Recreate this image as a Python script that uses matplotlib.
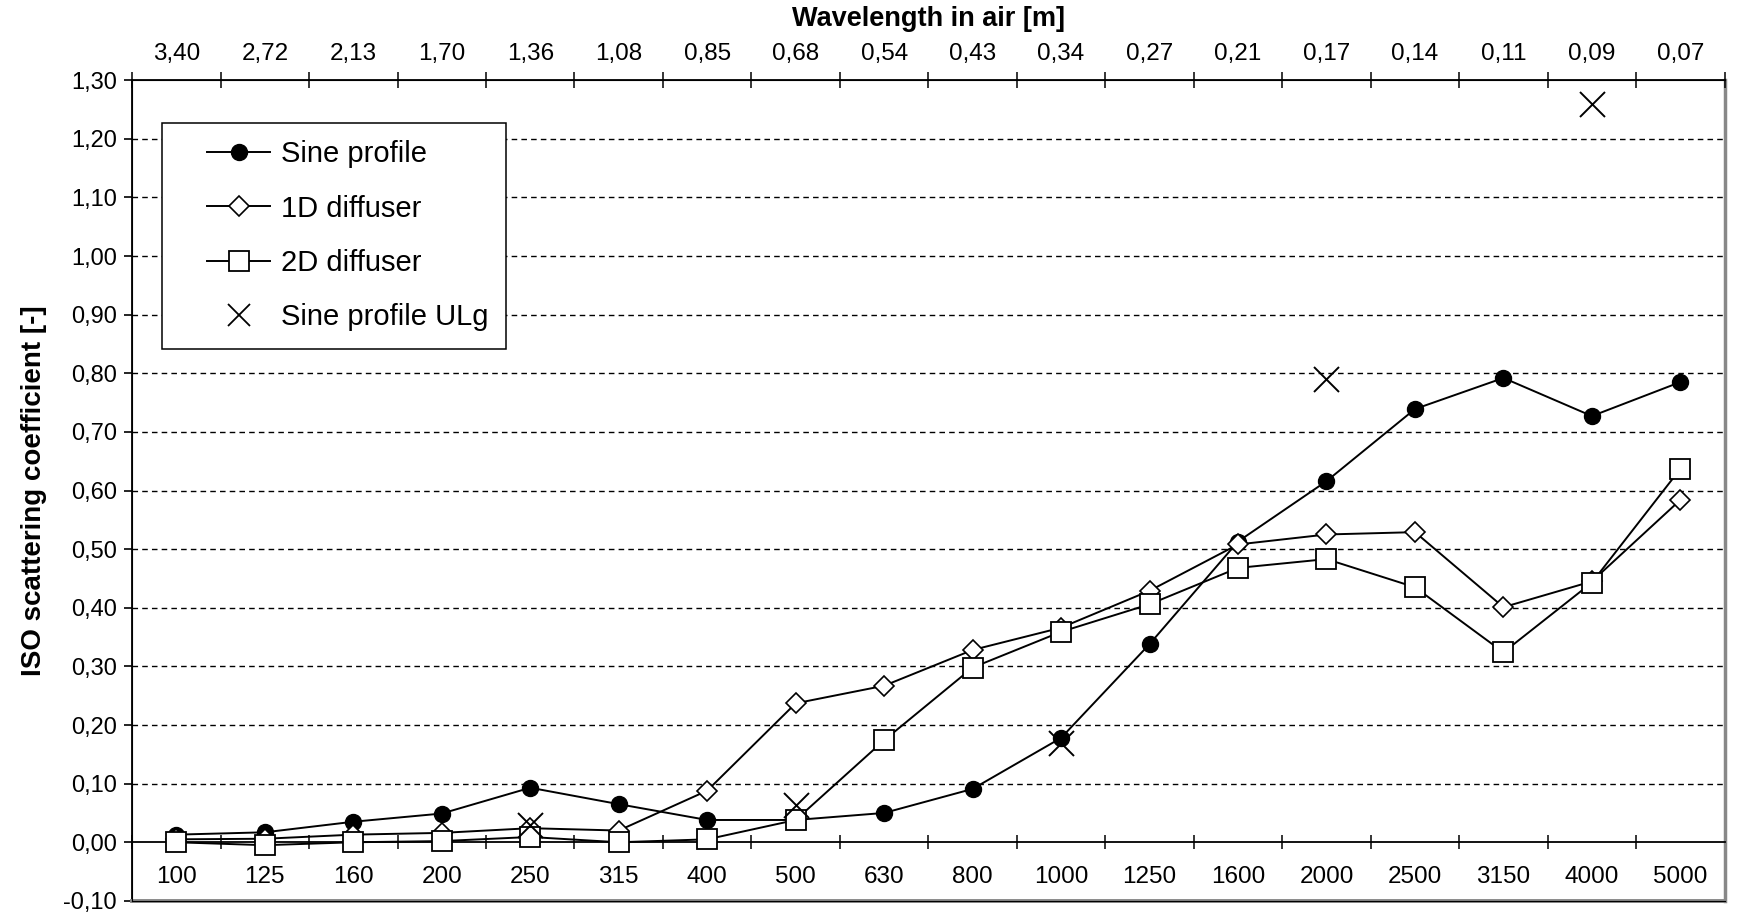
import matplotlib
matplotlib.use("Agg")
import matplotlib.pyplot as plt
from matplotlib.lines import Line2D
from matplotlib.legend_handler import HandlerLine2D
import numpy as np

# third-octave band centre frequencies [Hz]
freqs = ["100", "125", "160", "200", "250", "315", "400", "500", "630",
         "800", "1000", "1250", "1600", "2000", "2500", "3150", "4000", "5000"]
wavelengths = ["3,40", "2,72", "2,13", "1,70", "1,36", "1,08", "0,85", "0,68", "0,54",
               "0,43", "0,34", "0,27", "0,21", "0,17", "0,14", "0,11", "0,09", "0,07"]

sineProfile = [0.013, 0.017, 0.035, 0.049, 0.093, 0.065, 0.038, 0.038, 0.050,
               0.091, 0.178, 0.338, 0.513, 0.616, 0.739, 0.792, 0.727, 0.785]
diffuser1D = [0.005, 0.006, 0.013, 0.016, 0.024, 0.020, 0.088, 0.237, 0.267,
              0.328, 0.366, 0.429, 0.508, 0.525, 0.529, 0.401, 0.445, 0.584]
diffuser2D = [0.000, -0.005, 0.000, 0.002, 0.009, 0.000, 0.005, 0.038, 0.174,
              0.298, 0.359, 0.406, 0.468, 0.483, 0.435, 0.324, 0.443, 0.637]
# ULg measurements only exist for a few bands
ulgBands = ["250", "500", "1000", "2000", "4000"]
ulgValues = [0.029, 0.063, 0.170, 0.790, 1.260]

yTicks = [-0.1, 0.0, 0.1, 0.2, 0.3, 0.4, 0.5, 0.6, 0.7, 0.8, 0.9, 1.0, 1.1, 1.2, 1.3]

plt.rcParams["font.family"] = ["Liberation Sans", "DejaVu Sans"]


class IndentedHandler(HandlerLine2D):
    # legend handles sit a bit further right inside the box, like the original
    def create_artists(self, legend, orig_handle, xdescent, ydescent, width,
                       height, fontsize, trans):
        artists = super().create_artists(legend, orig_handle, xdescent, ydescent,
                                         width, height, fontsize, trans)
        for a in artists:
            xs = np.asarray(a.get_xdata(), dtype=float)
            a.set_xdata(xs * 0.7 + width * 0.3)
        return artists


fig = plt.figure(figsize=(17.5, 9.16), dpi=100)
ax = fig.add_axes([0.0755, 0.0165, 0.910, 0.896])

xPos = list(range(len(freqs)))
ulgPos = [freqs.index(b) for b in ulgBands]

ax.plot(xPos, sineProfile, color="black", lw=1.4, marker="o", ms=11.5,
        mfc="black", mec="black", zorder=4)
ax.plot(xPos, diffuser1D, color="black", lw=1.4, marker="D", ms=10,
        mfc="white", mec="black", mew=1.2, zorder=4)
ax.plot(xPos, diffuser2D, color="black", lw=1.4, marker="s", ms=14,
        mfc="white", mec="black", mew=1.3, zorder=5)
ax.plot(ulgPos, ulgValues, ls="none", marker="x", ms=18, mew=1.4,
        color="black", zorder=6)

ax.set_xlim(-0.5, len(freqs) - 0.5)
ax.set_ylim(-0.1, 1.3)

# grid
for v in yTicks[2:-1]:
    ax.axhline(v, color="black", lw=1.0, ls=(0, (4, 3)), zorder=1)

# y axis
ax.set_yticks(yTicks)
ax.set_yticklabels([f"{v:.2f}".replace(".", ",") for v in yTicks], fontsize=17)
ax.tick_params(axis="y", direction="out", length=6, width=1.2, pad=5)
ax.set_ylabel("ISO scattering coefficient [-]", fontweight="bold",
              fontsize=20, labelpad=12)

# bottom category axis sits on y = 0
ax.spines["bottom"].set_position(("data", 0))
ax.spines["bottom"].set_linewidth(1.3)
ax.spines["left"].set_linewidth(1.3)
ax.spines["right"].set_color("#888888")
ax.spines["right"].set_linewidth(2.5)
ax.set_xticks([i - 0.5 for i in range(len(freqs) + 1)])
ax.set_xticklabels([])
ax.set_xticks(xPos, minor=True)
ax.set_xticklabels(freqs, minor=True, fontsize=17.5)
ax.tick_params(axis="x", which="major", direction="inout", length=10, width=1.1)
ax.tick_params(axis="x", which="minor", length=0, pad=17)
ax.add_line(Line2D([-0.5, len(freqs) - 0.5], [-0.1, -0.1], color="#888888",
                   lw=2.8, clip_on=False, zorder=3))

# top wavelength axis
top = ax.twiny()
top.set_xlim(ax.get_xlim())
top.spines["top"].set_linewidth(1.3)
top.spines["right"].set_visible(False)
top.set_xticks([i - 0.5 for i in range(len(freqs) + 1)])
top.set_xticklabels([])
top.set_xticks(xPos, minor=True)
top.set_xticklabels(wavelengths, minor=True, fontsize=17.5)
top.tick_params(axis="x", which="major", direction="inout", length=12, width=1.1)
top.tick_params(axis="x", which="minor", length=0, pad=11)
top.set_xlabel("Wavelength in air [m]", fontweight="bold", fontsize=19.5, labelpad=12)

# legend
handles = [
    Line2D([], [], color="black", lw=1.4, marker="o", ms=11.5, mfc="black"),
    Line2D([], [], color="black", lw=1.4, marker="D", ms=10, mfc="white", mew=1.2),
    Line2D([], [], color="black", lw=1.4, marker="s", ms=14, mfc="white", mew=1.3),
    Line2D([], [], ls="none", color="black", marker="x", ms=16, mew=1.3),
]
labels = ["Sine profile", "1D diffuser", "2D diffuser", "Sine profile ULg"]
leg = ax.legend(handles, labels, loc="upper left", bbox_to_anchor=(0.019, 0.948),
                prop={"size": 21}, frameon=True, fancybox=False,
                edgecolor="black", framealpha=1, borderpad=0.6, labelspacing=0.9,
                handlelength=3.1, handletextpad=0.35, borderaxespad=0,
                handler_map={Line2D: IndentedHandler()})
leg.get_frame().set_linewidth(1.1)
leg.set_zorder(10)

fig.savefig("out.png", dpi=100, facecolor="white")
